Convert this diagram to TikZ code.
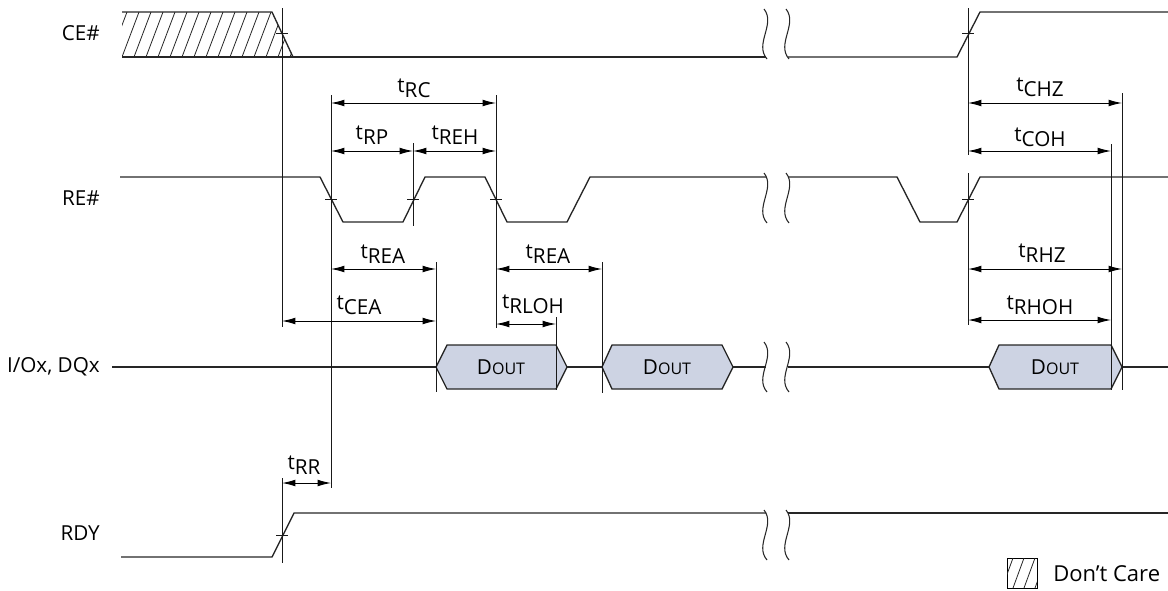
\documentclass[tikz,border=0pt]{standalone}
\usepackage{fontspec}
\setmainfont{Open Sans}
\usetikzlibrary{arrows.meta}
\newcommand\tlab[1]{t\raisebox{-0.45ex}{#1}}
\newcommand\dout{D{\fontsize{12}{13}\selectfont OUT}}
\newcommand\brkmark[2]{%
  \draw[brk] (#1,#2-25) .. controls (#1+12,#2-10) and (#1-10,#2+10) .. (#1+3,#2+25);
  \draw[brk] (#1+22,#2-25) .. controls (#1+34,#2-10) and (#1+12,#2+10) .. (#1+25,#2+25);}
\begin{document}
\begin{tikzpicture}[x=0.75pt,y=-0.75pt,
  sig/.style={line width=1pt,draw=black!85,line join=round},
  brk/.style={line width=0.8pt,draw=black!85},
  vl/.style={line width=0.7pt,draw=black!90},
  dim/.style={line width=0.7pt,{Latex[length=10pt,width=5pt]}-{Latex[length=10pt,width=5pt]}},
  lbl/.style={font=\fontsize{15.5}{17}\selectfont,inner sep=0pt},
  signame/.style={font=\fontsize{15.5}{17}\selectfont,inner sep=0pt,anchor=east},
  bus/.style={line width=1pt,draw=black!85,fill=busfill},
  hatch/.style={line width=0.6pt,draw=black!85}]
\definecolor{busfill}{RGB}{205,211,227}
\useasboundingbox (0,0) rectangle (1168,590);

% signal names
\node[signame] (nce) at (100,33) {CE\#};
\node[signame] (nre) at (100,198) {RE\#};
\node[signame] (nio) at (100,367) {I/Ox, DQx};
\node[signame] (nrdy) at (100,533) {RDY};

% CE# don't care hatch
\begin{scope}
  \clip (122,12) -- (272,12) -- (293,57) -- (122,57) -- cycle;
  \foreach \k in {0,...,15} {\draw[hatch] (110+12*\k,57) -- (127+12*\k,12);}
\end{scope}
\draw[sig] (122,12) -- (272,12) -- (293,57);
\draw[sig] (122,57) -- (766,57);
\draw[sig] (788,57) -- (957,57) -- (980,12) -- (1168,12);
\brkmark{764}{34}

% RE#
\draw[sig] (120,177) -- (320,177) -- (343,222) -- (403,222) -- (425,177) -- (485,177) -- (507,222) -- (567,222) -- (590,177) -- (766,177);
\draw[sig] (788,177) -- (897,177) -- (920,222) -- (957,222) -- (980,177) -- (1168,177);
\brkmark{764}{198}

% I/O bus
\draw[sig] (112,367) -- (436,367);
\draw[bus] (436,367) -- (447,345) -- (556,345) -- (567,367) -- (556,389) -- (447,389) -- cycle;
\node[lbl] (d1) at (501,367) {\dout};
\draw[sig] (567,367) -- (602,367);
\draw[bus] (602,367) -- (612,345) -- (722,345) -- (733,367) -- (722,389) -- (612,389) -- cycle;
\node[lbl] (d2) at (667,367) {\dout};
\draw[sig] (733,367) -- (766,367);
\draw[sig] (788,367) -- (989,367);
\draw[bus] (989,367) -- (999,345) -- (1111,345) -- (1122,367) -- (1111,389) -- (999,389) -- cycle;
\node[lbl] (d3) at (1055,367) {\dout};
\draw[sig] (1122,367) -- (1168,367);
\brkmark{764}{367}

% RDY
\draw[sig] (121,557) -- (272,557) -- (294,513) -- (766,513);
\draw[sig] (788,513) -- (1168,513);
\brkmark{764}{535}

% vertical reference lines
\draw[vl] (282,8) -- (282,327);
\draw[vl] (331,95) -- (331,488);
\draw[vl] (413,143) -- (413,226);
\draw[vl] (496,95) -- (496,328);
\draw[vl] (436,262) -- (436,392);
\draw[vl] (602,262) -- (602,393);
\draw[vl] (556,317) -- (556,390);
\draw[vl] (968,8) -- (968,155);
\draw[vl] (968,173) -- (968,325);
\draw[vl] (1111,144) -- (1111,390);
\draw[vl] (1122,93) -- (1122,390);
\draw[vl] (282,478) -- (282,563);

% crossing ticks
\foreach \x/\y in {282/33, 331/199, 413/199, 496/199, 968/33, 968/199, 282/535}
  {\draw[vl] (\x-6,\y) -- (\x+6,\y);}

% dimension arrows
\draw[dim] (331,103) -- (496,103);
\node[lbl] (lrc) at (414,88) {\tlab{RC}};
\draw[dim] (331,151) -- (413,151);
\node[lbl] (lrp) at (372,135) {\tlab{RP}};
\draw[dim] (413,151) -- (496,151);
\node[lbl] (lreh) at (455,135) {\tlab{REH}};
\draw[dim] (331,269) -- (436,269);
\node[lbl] (lrea1) at (383,254) {\tlab{REA}};
\draw[dim] (282,321) -- (436,321);
\node[lbl] (lcea) at (359,305) {\tlab{CEA}};
\draw[dim] (496,269) -- (602,269);
\node[lbl] (lrea2) at (548,254) {\tlab{REA}};
\draw[dim] (496,324) -- (556,324);
\node[lbl] (lrloh) at (533,304) {\tlab{RLOH}};
\draw[dim] (282,483) -- (331,483);
\node[lbl] (lrr) at (304,465) {\tlab{RR}};
\draw[dim] (968,103) -- (1122,103);
\node[lbl] (lchz) at (1040,87) {\tlab{CHZ}};
\draw[dim] (968,151) -- (1111,151);
\node[lbl] (lcoh) at (1040,137) {\tlab{COH}};
\draw[dim] (968,269) -- (1122,269);
\node[lbl] (lrhz) at (1042,253) {\tlab{RHZ}};
\draw[dim] (968,320) -- (1111,320);
\node[lbl] (lrhoh) at (1040,305) {\tlab{RHOH}};

% legend
\draw[line width=0.7pt] (1007,558) rectangle (1037,588);
\begin{scope}
  \clip (1007,558) rectangle (1037,588);
  \foreach \k in {0,1,2,3} {\draw[hatch] (1002+11*\k,588) -- (1013+11*\k,558);}
\end{scope}
\node[font=\fontsize{16.5}{18}\selectfont,inner sep=0pt,anchor=west] (ldc) at (1053,574) {Don’t Care};
\end{tikzpicture}
\end{document}
